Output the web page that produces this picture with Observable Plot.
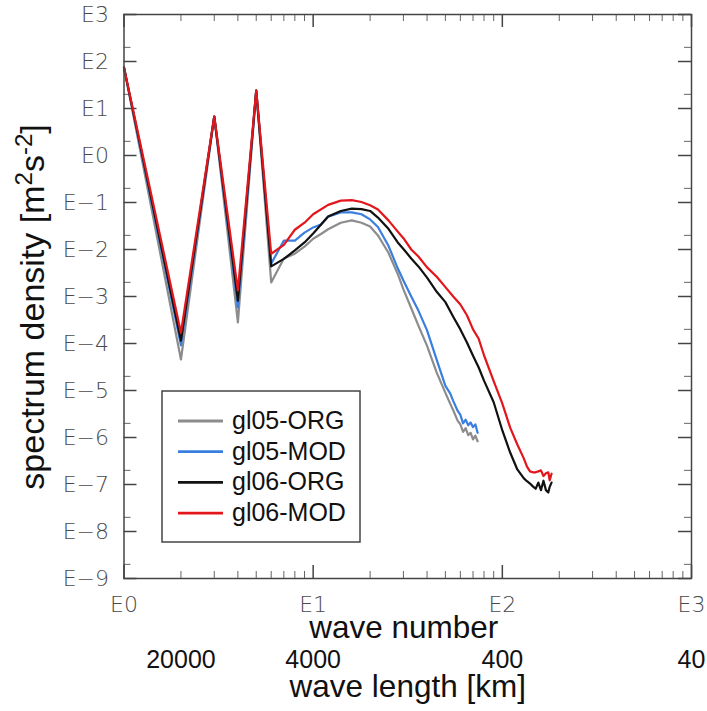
<!DOCTYPE html>
<html><head><meta charset="utf-8">
<script src="https://cdn.jsdelivr.net/npm/d3@7"></script>
<script src="https://cdn.jsdelivr.net/npm/@observablehq/plot@0.6"></script>
<style>
body{margin:0;background:#fff;}
</style></head><body><div id="chart"></div>
<script>
// wave numbers sampled along each experiment
const waveNumbers05 = [1,2,3,4,5,6,7,8,9,10,11,12,14,16,18,20,22,25,28,30,33,36,40,45,50,53,55,58,60,62,64,66,68,70,72,74];
const waveNumbers06 = [1,2,3,4,5,6,7,8,9,10,12,14,16,18,20,22,25,28,30,33,36,40,45,50,55,60,65,70,75,80,90,100,110,120,130,135,140,145,150,155,160,165,170,175,178,182];

// log10 of spectrum density [m2 s-2]
const gl05ORG = [1.87,-4.34,0.83,-3.55,1.38,-2.70,-2.19,-2.09,-1.94,-1.77,
  -1.67,-1.57,-1.43,-1.38,-1.43,-1.51,-1.70,-2.07,-2.52,-2.85,
  -3.25,-3.62,-4.05,-4.62,-5.05,-5.28,-5.42,-5.64,-5.72,-5.88,
  -5.80,-5.95,-5.90,-6.04,-5.96,-6.08];
const gl05MOD = [1.87,-4.04,0.83,-3.23,1.38,-2.30,-1.81,-1.81,-1.64,-1.53,
  -1.47,-1.30,-1.21,-1.21,-1.25,-1.36,-1.52,-1.92,-2.40,-2.66,
  -3.00,-3.30,-3.72,-4.35,-4.90,-5.06,-5.22,-5.43,-5.52,-5.70,
  -5.62,-5.74,-5.68,-5.78,-5.72,-5.90];
const gl06ORG = [1.87,-3.94,0.83,-3.09,1.38,-2.36,-2.20,-2.02,-1.85,-1.66,
  -1.30,-1.18,-1.13,-1.14,-1.18,-1.32,-1.56,-1.85,-1.99,
  -2.19,-2.36,-2.60,-2.90,-3.12,-3.43,-3.70,-3.98,-4.26,-4.51,-4.79,
  -5.25,-5.85,-6.32,-6.68,-6.87,-6.93,-6.98,-7.04,-7.09,-6.96,
  -7.12,-6.92,-7.12,-7.17,-7.05,-6.96];
const gl06MOD = [1.87,-3.77,0.83,-2.87,1.38,-2.09,-1.90,-1.58,-1.43,-1.25,
  -1.05,-0.96,-0.95,-0.99,-1.06,-1.15,-1.38,-1.62,-1.76,
  -2.00,-2.15,-2.38,-2.58,-2.80,-3.00,-3.17,-3.40,-3.70,-3.90,-4.25,
  -4.80,-5.28,-5.79,-6.15,-6.45,-6.62,-6.72,-6.74,-6.74,-6.72,
  -6.70,-6.82,-6.76,-6.74,-6.91,-6.77];

const seriesNames = ["gl05-ORG","gl05-MOD","gl06-ORG","gl06-MOD"];
const seriesColors = ["#8c8c8c","#3a7ee0","#111111","#e3161c"];

const xMajorTicks = [1,10,100,1000];
const xMinorTicks = [2,3,4,5,6,7,8,9,20,30,40,50,60,70,80,90,200,300,400,500,600,700,800,900];
const yMajorExps = [-9,-8,-7,-6,-5,-4,-3,-2,-1,0,1,2,3];
const yMinorExps = [-9,-8,-7,-6,-5,-4,-3,-2,-1,0,1,2];
const wavelengthAt = [2,10,100,1000];
const wavelengthLabels = ["20000","4000","400","40"];

const rows = [];
function addSeries(name, ns, exps){ ns.forEach((n,i)=>rows.push({series:name, n, v: Math.pow(10, exps[i])})); }
addSeries("gl05-ORG", waveNumbers05, gl05ORG);
addSeries("gl05-MOD", waveNumbers05, gl05MOD);
addSeries("gl06-ORG", waveNumbers06, gl06ORG);
addSeries("gl06-MOD", waveNumbers06, gl06MOD);

const yMajor = yMajorExps.map(e => Math.pow(10, e));
const yMinor = yMinorExps.map(e => 2 * Math.pow(10, e));
const expLabel = v => { const e = Math.round(Math.log10(v)); return e < 0 ? "E\u2212" + (-e) : "E" + e; };

const W = 707, H = 711, mL = 123.5, mR = 16, mT = 14, mB = 133;
const fw = W - mL - mR, fh = H - mT - mB;
const tickFont = {fontFamily: "DejaVu Sans", fontWeight: 200, fontSize: 22, fill: "#4a4a4a"};

const plot = Plot.plot({
  width: W, height: H,
  marginLeft: mL, marginRight: mR, marginTop: mT, marginBottom: mB,
  x: {type: "log", domain: [1, 1000], axis: null},
  y: {type: "log", domain: [1e-9, 1e3], axis: null},
  color: {domain: seriesNames, range: seriesColors},
  style: {background: "#fff", overflow: "visible"},
  marks: [
    Plot.tickX(xMinorTicks, {x: d => d, insetTop: fh - 7, stroke: "#666", strokeWidth: 1}),
    Plot.tickX(xMinorTicks, {x: d => d, insetBottom: fh - 7, stroke: "#666", strokeWidth: 1}),
    Plot.tickX(xMajorTicks, {x: d => d, insetTop: fh - 13, stroke: "#444", strokeWidth: 1.5}),
    Plot.tickX(xMajorTicks, {x: d => d, insetBottom: fh - 13, stroke: "#444", strokeWidth: 1.5}),
    Plot.tickY(yMinor, {y: d => d, insetRight: fw - 7, stroke: "#666", strokeWidth: 1}),
    Plot.tickY(yMinor, {y: d => d, insetLeft: fw - 7, stroke: "#666", strokeWidth: 1}),
    Plot.tickY(yMajor, {y: d => d, insetRight: fw - 13, stroke: "#444", strokeWidth: 1.5}),
    Plot.tickY(yMajor, {y: d => d, insetLeft: fw - 13, stroke: "#444", strokeWidth: 1.5}),
    Plot.line(rows, {x: "n", y: "v", stroke: "series", strokeWidth: 2.2, strokeLinejoin: "round"}),
    Plot.frame({stroke: "#444", strokeWidth: 1.5}),
    Plot.text(xMajorTicks, {x: d => d, frameAnchor: "bottom", dy: 33, text: d => expLabel(d), ...tickFont}),
    Plot.text(yMajor, {y: d => d, frameAnchor: "left", dx: -15, textAnchor: "end", text: d => expLabel(d), ...tickFont}),
    Plot.text(wavelengthAt, {x: d => d, frameAnchor: "bottom", dy: 89, text: (d, i) => wavelengthLabels[i], fontFamily: "Liberation Sans", fontSize: 25, fill: "#111"}),
    Plot.text(["wave number"], {frameAnchor: "bottom", dy: 59, dx: -4, text: d => d, fontFamily: "Liberation Sans", fontSize: 31.5, fill: "#111"}),
    Plot.text(["wave length [km]"], {frameAnchor: "bottom", dy: 118, text: d => d, fontFamily: "Liberation Sans", fontSize: 31.5, fill: "#111"})
  ]
});

const svg = d3.select(plot);
// y axis title with superscripts
const yt = svg.append("text")
  .attr("transform", `translate(44,307) rotate(-90)`)
  .attr("text-anchor", "middle")
  .attr("font-family", "Liberation Sans").attr("font-size", 34).attr("fill", "#111");
yt.append("tspan").text("spectrum density [m");
yt.append("tspan").attr("font-size", 24).attr("dy", -12).text("2");
yt.append("tspan").attr("dy", 12).text("s");
yt.append("tspan").attr("font-size", 24).attr("dy", -12).text("-2");
yt.append("tspan").attr("dy", 12).text("]");

// legend
const lg = svg.append("g");
lg.append("rect").attr("x", 162).attr("y", 391).attr("width", 198).attr("height", 151)
  .attr("fill", "#fff").attr("stroke", "#444").attr("stroke-width", 1.5);
seriesNames.forEach((s, i) => {
  const y = 421 + i * 30.7;
  lg.append("line").attr("x1", 178).attr("x2", 223).attr("y1", y).attr("y2", y)
    .attr("stroke", seriesColors[i]).attr("stroke-width", 2.8);
  lg.append("text").attr("x", 232).attr("y", y + 8).attr("text-anchor", "start").text(s)
    .attr("font-family", "Liberation Sans").attr("font-size", 25).attr("fill", "#111");
});

document.getElementById("chart").appendChild(plot);
</script>
</body></html>
